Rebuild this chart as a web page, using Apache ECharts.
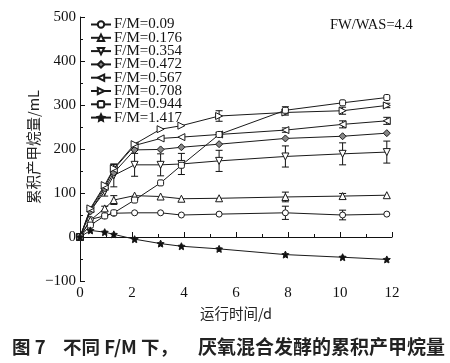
<!DOCTYPE html>
<html><head><meta charset="utf-8">
<script src="https://cdn.jsdelivr.net/npm/echarts@6/dist/echarts.min.js"></script>
<style>html,body{margin:0;padding:0;background:#fff}#c{width:450px;height:363px}</style>
</head><body><div id="c"></div>
<script>
// ---- data ----
var times = [0, 0.4, 0.95, 1.3, 2.1, 3.1, 3.9, 5.35, 7.9, 10.1, 11.8];
var seriesNames = ['F/M=0.09','F/M=0.176','F/M=0.354','F/M=0.472','F/M=0.567','F/M=0.708','F/M=0.944','F/M=1.417'];
var fm009  = [0, 40, 48, 54, 55, 55, 50, 52, 55, 50, 52];
var fm0176 = [0, 38, 65, 84, 94, 92, 87, 88, 91, 93, 95];
var fm0354 = [0, 60, 103, 140, 164, 164, 166, 173, 183, 189, 193];
var fm0472 = [0, 58, 110, 146, 198, 199, 204, 211, 224, 229, 236];
var fm0567 = [0, 63, 114, 154, 208, 224, 227, 233, 243, 256, 264];
var fm0708 = [0, 65, 118, 156, 211, 245, 253, 275, 283, 287, 299];
var fm0944 = [0, 27, 48, 55, 84, 123, 163, 233, 288, 305, 317];
var fm1417 = [0, 15, 11, 6, -5, -15, -21, -27, -40, -46, -51];
// error bar half-widths
var e009  = [0,0,0,0,0,0,0,0,15,11,0];
var e0176 = [0,0,5,10,0,0,0,0,11,6,0];
var e0354 = [0,0,10,26,26,25,24,24,24,25,25];
var e0472 = [0,0,0,0,0,0,0,0,0,0,0];
var e0567 = [0,0,0,0,0,0,0,5,5,8,8];
var e0708 = [0,0,0,9,0,0,0,12,6,8,5];
var e0944 = [0,0,0,0,0,0,0,0,8,0,0];
var e1417 = [0,0,0,0,0,0,0,0,0,0,0];
var xTicks = [0, 2, 4, 6, 8, 10, 12];
var yTicks = [-100, 0, 100, 200, 300, 400, 500];

var values = [fm009, fm0176, fm0354, fm0472, fm0567, fm0708, fm0944, fm1417];
var errs = [e009, e0176, e0354, e0472, e0567, e0708, e0944, e1417];

var star = 'path://M0,-10 L2.9,-4 L9.5,-3.1 L4.7,1.5 L5.9,8.1 L0,5 L-5.9,8.1 L-4.7,1.5 L-9.5,-3.1 L-2.9,-4 Z';
var symbols = [
  {s:'circle', r:0, fill:'#fff', size:6},
  {s:'triangle', r:0, fill:'#fff', size:7},
  {s:'triangle', r:180, fill:'#fff', size:7},
  {s:'diamond', r:0, fill:'#888', size:7},
  {s:'triangle', r:90, fill:'#fff', size:7},
  {s:'triangle', r:-90, fill:'#fff', size:7},
  {s:'roundRect', r:0, fill:'#fff', size:6},
  {s:star, r:0, fill:'#111', size:7}
];

var serif = '"Liberation Serif","Times New Roman",serif';
var cjk = '"Noto Sans CJK SC",sans-serif';

var series = [];
values.forEach(function (vals, i) {
  var errData = [];
  times.forEach(function (t, k) { if (errs[i][k] > 0) errData.push([t, vals[k], errs[i][k]]); });
  series.push({
    type: 'custom', silent: true, z: 1,
    renderItem: function (params, api) {
      var x = api.value(0), y = api.value(1), e = api.value(2);
      var top = api.coord([x, y + e]), bot = api.coord([x, y - e]);
      var w = 3.5;
      return {type: 'group', children: [
        {type: 'line', shape: {x1: top[0], y1: top[1], x2: bot[0], y2: bot[1]}, style: {stroke: '#111', lineWidth: 1}},
        {type: 'line', shape: {x1: top[0]-w, y1: top[1], x2: top[0]+w, y2: top[1]}, style: {stroke: '#111', lineWidth: 1}},
        {type: 'line', shape: {x1: bot[0]-w, y1: bot[1], x2: bot[0]+w, y2: bot[1]}, style: {stroke: '#111', lineWidth: 1}}
      ]};
    },
    data: errData
  });
  series.push({
    name: seriesNames[i], type: 'line', z: 3,
    data: times.map(function (t, k) { return [t, vals[k]]; }),
    symbol: symbols[i].s, symbolRotate: symbols[i].r, symbolSize: symbols[i].size,
    showAllSymbol: true,
    lineStyle: {color: '#1a1a1a', width: 1},
    itemStyle: {color: symbols[i].fill, borderColor: '#1a1a1a', borderWidth: 1},
    emphasis: {disabled: true}
  });
});

var chart = echarts.init(document.getElementById('c'), null, {renderer: 'canvas'});
chart.setOption({
  animation: false,
  backgroundColor: '#fff',
  grid: {left: 80, right: 58, top: 17, bottom: 82, containLabel: false},
  legend: {
    data: seriesNames, orient: 'vertical', left: 90, top: 17,
    itemWidth: 20, itemHeight: 8, itemGap: -1.7,
    textStyle: {fontFamily: serif, fontSize: 15, color: '#111', lineHeight: 13, padding: [0,0,0,-2]},
    padding: 0, selectedMode: false
  },
  xAxis: {
    type: 'value', min: 0, max: 12, interval: 2,
    axisLine: {show: true, lineStyle: {color: '#111', width: 1}},
    axisTick: {show: true, inside: true, length: 5, lineStyle: {color: '#111'}},
    minorTick: {show: true, splitNumber: 2, length: 3, lineStyle: {color: '#111'}},
    splitLine: {show: false},
    axisLabel: {fontFamily: serif, fontSize: 15, color: '#111', margin: 5}
  },
  yAxis: {
    type: 'value', min: -100, max: 500, interval: 100,
    axisLine: {show: true, lineStyle: {color: '#111', width: 1}},
    axisTick: {show: true, inside: true, length: 5, lineStyle: {color: '#111'}},
    minorTick: {show: true, splitNumber: 2, length: 3, lineStyle: {color: '#111'}},
    splitLine: {show: false},
    axisLabel: {fontFamily: serif, fontSize: 15, color: '#111', margin: 4,
      formatter: function (v) { return String(v).replace('-', '\u2212'); }}
  },
  graphic: [
    {type: 'text', left: 330, top: 18, style: {text: 'FW/WAS=4.4', font: '14.5px ' + serif, fill: '#111'}},
    {type: 'text', x: 33.5, y: 147, rotation: Math.PI/2, style: {text: '累积产甲烷量/mL', font: '14.5px ' + cjk, fill: '#222', align: 'center', verticalAlign: 'middle'}},
    {type: 'text', x: 236, y: 313, style: {text: '运行时间/d', font: '14.5px ' + cjk, fill: '#222', align: 'center', verticalAlign: 'middle'}},
    {type: 'text', x: 12, y: 347, style: {text: '图 7', font: 'bold 18.5px ' + cjk, fill: '#222', verticalAlign: 'middle'}},
    {type: 'text', x: 63, y: 347, style: {text: '不同 F/M 下，', font: 'bold 18.5px ' + cjk, fill: '#222', verticalAlign: 'middle'}},
    {type: 'text', x: 198, y: 347, style: {text: '厌氧混合发酵的累积产甲烷量', font: 'bold 19px ' + cjk, fill: '#222', verticalAlign: 'middle'}}
  ],
  series: series
});
</script></body></html>
